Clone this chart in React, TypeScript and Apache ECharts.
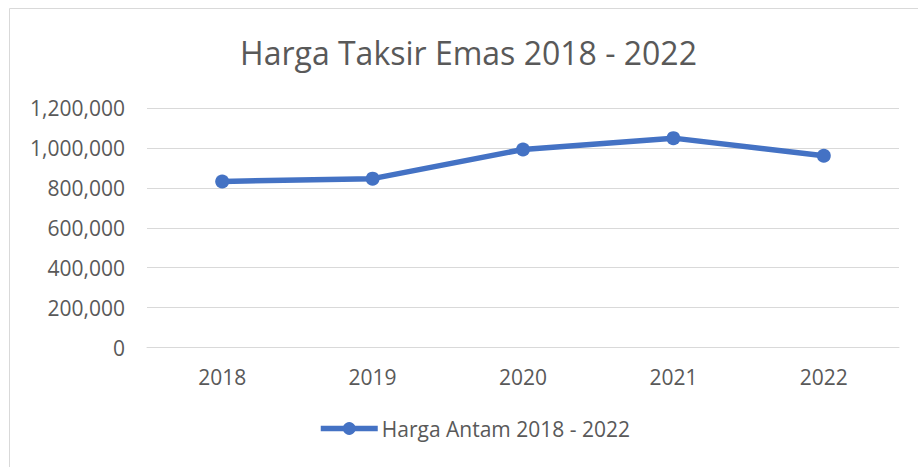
import React, { useEffect, useRef } from "react";
import * as echarts from "echarts";

const categories = ["2018", "2019", "2020", "2021", "2022"];
const seriesName = "Harga Antam 2018 - 2022";
const values = [832000, 846000, 992000, 1049000, 961000];
const titleText = "Harga Taksir Emas 2018 - 2022";

const FONT = "'Open Sans', 'Noto Sans', sans-serif";
const BLUE = "#4472C4";
const GREY_TEXT = "#595959";

export default function App() {
  const ref = useRef<HTMLDivElement>(null);
  useEffect(() => {
    if (!ref.current) return;
    const chart = echarts.init(ref.current, null, { renderer: "svg" });
    chart.setOption({
      animation: false,
      backgroundColor: "#ffffff",
      textStyle: { fontFamily: FONT },
      graphic: [
        {
          type: "rect",
          shape: { x: 9.5, y: 8.5, width: 1000, height: 1000 },
          style: { fill: "none", stroke: "#d9d9d9", lineWidth: 1 },
          silent: true,
        },
        {
          type: "text",
          x: 468.5,
          y: 52,
          style: {
            text: titleText,
            fontFamily: FONT,
            fontSize: 32,
            fill: GREY_TEXT,
            textAlign: "center",
            textVerticalAlign: "middle",
          },
        },
      ],
      legend: {
        left: 318,
        top: 418,
        padding: 0,
        itemWidth: 57,
        itemHeight: 16,
        itemGap: 10,
        lineStyle: { width: 5.5 },
        textStyle: { fontFamily: FONT, fontSize: 21, color: GREY_TEXT, padding: [0, 0, 0, -1] },
        data: [seriesName],
      },
      grid: { left: 147, right: 19, top: 108, bottom: 119.5, containLabel: false },
      xAxis: {
        type: "category",
        data: categories,
        boundaryGap: true,
        axisLine: { show: true, lineStyle: { color: "#d9d9d9", width: 1 } },
        axisTick: { show: false },
        axisLabel: { color: GREY_TEXT, fontSize: 21, fontFamily: FONT, margin: 19 },
      },
      yAxis: {
        type: "value",
        min: 0,
        max: 1200000,
        interval: 200000,
        axisLine: { show: false },
        axisTick: { show: false },
        splitLine: { lineStyle: { color: "#d9d9d9", width: 1 } },
        axisLabel: {
          color: GREY_TEXT,
          fontSize: 21,
          fontFamily: FONT,
          margin: 22,
          formatter: (v: number) => v.toLocaleString("en-US"),
        },
      },
      series: [
        {
          name: seriesName,
          type: "line",
          data: values,
          symbol: "circle",
          symbolSize: 14,
          lineStyle: { color: BLUE, width: 5.5 },
          itemStyle: { color: BLUE },
        },
      ],
    });
    return () => chart.dispose();
  }, []);
  return (
    <div
      ref={ref}
      style={{ position: "fixed", left: 0, top: 0, width: 918, height: 467 }}
    />
  );
}
